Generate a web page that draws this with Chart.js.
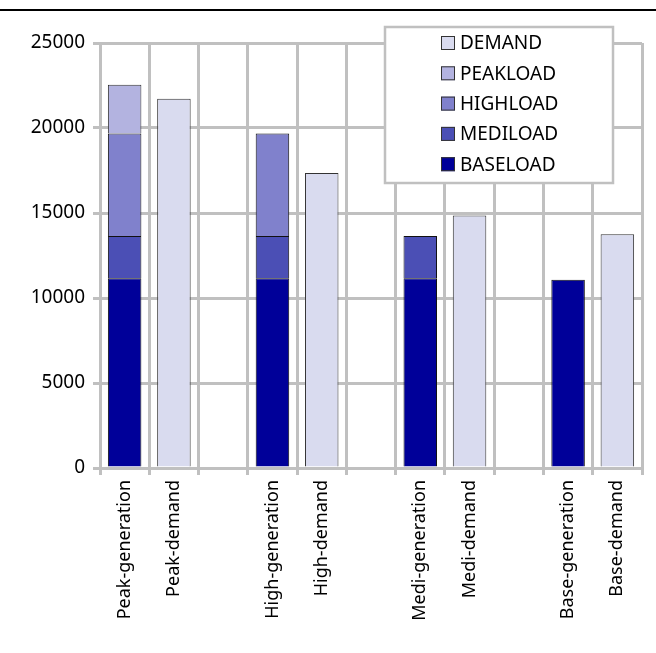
<!DOCTYPE html>
<html>
<head>
<meta charset="utf-8">
<script src="https://cdn.jsdelivr.net/npm/chart.js@4"></script>
<style>
    body { margin: 0; background: #fff; }
    #wrap { position: relative; width: 656px; height: 653px; }
    #topline { position: absolute; left: 0; top: 9px; width: 656px; border-top: 2px solid #000; }
</style>
</head>
<body>
<div id="wrap">
    <div id="topline"></div>
    <canvas id="chart" width="656" height="653"></canvas>
</div>
<script>
const categories = [
    'Peak-generation', 'Peak-demand', '',
    'High-generation', 'High-demand', '',
    'Medi-generation', 'Medi-demand', '',
    'Base-generation', 'Base-demand'
];

const baseload = [11160, null, null, 11160, null, null, 11160, null, null, 11080, null];
const mediload = [2490, null, null, 2490, null, null, 2490, null, null, null, null];
const highload = [6020, null, null, 6020, null, null, null, null, null, null, null];
const peakload = [2880, null, null, null, null, null, null, null, null, null, null];
const demand = [null, 21720, null, null, 17350, null, null, 14860, null, null, 13750];

const yTicks = [0, 5000, 10000, 15000, 20000, 25000];

const font = "'Noto Sans', 'Open Sans', sans-serif";

// legend drawn inside the plot, top right, in reverse order
const boxLegend = {
    id: 'boxLegend',
    afterDraw(chart) {
        const ctx = chart.ctx;
        const sets = chart.data.datasets.slice().reverse();
        ctx.save();
        ctx.fillStyle = '#fff';
        ctx.fillRect(385, 27, 228, 156);
        ctx.strokeStyle = '#c0c0c0';
        ctx.lineWidth = 2.5;
        ctx.strokeRect(385, 27, 228, 156);
        ctx.font = '19px ' + font;
        ctx.textBaseline = 'middle';
        sets.forEach((ds, i) => {
            const y = 43 + i * 30.3;
            ctx.fillStyle = ds.backgroundColor;
            ctx.fillRect(441, y - 7, 14, 14);
            ctx.strokeStyle = '#333';
            ctx.lineWidth = 1;
            ctx.strokeRect(441.5, y - 6.5, 13, 13);
            ctx.fillStyle = '#000';
            ctx.fillText(ds.label, 460, y + 1);
        });
        ctx.restore();
    }
};

new Chart(document.getElementById('chart'), {
    type: 'bar',
    data: {
        labels: categories,
        datasets: [
            { label: 'BASELOAD', data: baseload, backgroundColor: '#000099', borderColor: '#111', borderWidth: 1 },
            { label: 'MEDILOAD', data: mediload, backgroundColor: '#4b4fb5', borderColor: '#111', borderWidth: 1 },
            { label: 'HIGHLOAD', data: highload, backgroundColor: '#8081cc', borderColor: '#111', borderWidth: 1 },
            { label: 'PEAKLOAD', data: peakload, backgroundColor: '#b3b3e0', borderColor: '#333', borderWidth: 1 },
            { label: 'DEMAND', data: demand, backgroundColor: '#d9dbef', borderColor: '#333', borderWidth: 1 }
        ]
    },
    options: {
        responsive: false,
        animation: false,
        layout: { padding: { top: 43, right: 14, left: 0, bottom: 0 } },
        datasets: { bar: { categoryPercentage: 1, barPercentage: 0.68 } },
        plugins: {
            legend: { display: false },
            tooltip: { enabled: false }
        },
        scales: {
            x: {
                stacked: true,
                offset: true,
                afterFit(s) { s.height = 185; },
                grid: { color: '#c0c0c0', lineWidth: 3, tickLength: 7, offset: true },
                border: { color: '#c0c0c0', width: 3 },
                ticks: {
                    color: '#000',
                    font: { family: font, size: 18 },
                    minRotation: 90,
                    maxRotation: 90,
                    autoSkip: false,
                    padding: 5
                }
            },
            y: {
                stacked: true,
                min: 0,
                max: 25000,
                afterFit(s) { s.width = 100; },
                afterBuildTicks(s) { s.ticks = yTicks.map(v => ({ value: v })); },
                grid: { color: '#c0c0c0', lineWidth: 3, tickLength: 7 },
                border: { color: '#c0c0c0', width: 3 },
                ticks: {
                    color: '#000',
                    font: { family: font, size: 19 },
                    padding: 8,
                    callback: v => String(v)
                }
            }
        }
    },
    plugins: [boxLegend]
});
</script>
</body>
</html>
